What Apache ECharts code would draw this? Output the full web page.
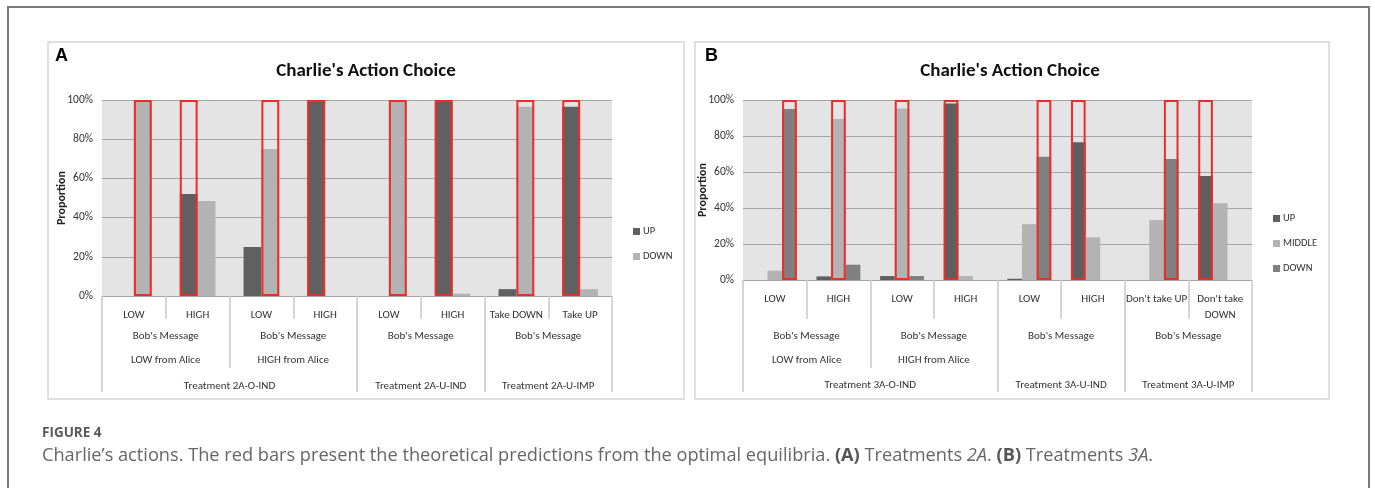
<!DOCTYPE html>
<html>
<head>
<meta charset="utf-8">
<script src="https://cdn.jsdelivr.net/npm/echarts@6/dist/echarts.min.js"></script>
<style>
  html, body { margin: 0; padding: 0; background: #fff; }
  #chart { width: 1375px; height: 488px; }
</style>
</head>
<body>
<div id="chart"></div>
<script>
// Panel A: treatments 2A (UP / DOWN)
var catsA = ['LOW', 'HIGH', 'LOW', 'HIGH', 'LOW', 'HIGH', 'Take DOWN', 'Take UP'];
var upA = [0, 52, 25, 99.5, 0, 99, 3.5, 96.5];
var downA = [100, 48.5, 75, 0, 99.5, 1.2, 96.5, 3.5];
// theoretical predictions (red outlines)
var predUpA = [null, 100, null, 100, null, 100, null, 100];
var predDownA = [100, null, 100, null, 100, null, 100, null];
var msgA = [["Bob's Message", 2], ["Bob's Message", 2], ["Bob's Message", 2], ["Bob's Message", 2]];
var aliceA = [['LOW from Alice', 2], ['HIGH from Alice', 2], ['', 4]];
var treatA = [['Treatment 2A-O-IND', 4], ['Treatment 2A-U-IND', 2], ['Treatment 2A-U-IMP', 2]];

// Panel B: treatments 3A (UP / MIDDLE / DOWN)
var catsB = ['LOW', 'HIGH', 'LOW', 'HIGH', 'LOW', 'HIGH', "Don't take UP", "Don't take\nDOWN"];
var upB = [0, 2, 2.2, 98, 0.7, 76.5, 0, 57.8];
var midB = [5.2, 89.4, 95.3, 2.2, 31, 23.7, 33.3, 42.6];
var downB = [95, 8.5, 2.2, 0, 68.5, 0, 67.2, 0];
var predUpB = [null, null, null, 100, null, 100, null, 100];
var predMidB = [null, 100, 100, null, null, null, null, null];
var predDownB = [100, null, null, null, 100, null, 100, null];
var msgB = [["Bob's Message", 2], ["Bob's Message", 2], ["Bob's Message", 2], ["Bob's Message", 2]];
var aliceB = [['LOW from Alice', 2], ['HIGH from Alice', 2], ['', 4]];
var treatB = [['Treatment 3A-O-IND', 4], ['Treatment 3A-U-IND', 2], ['Treatment 3A-U-IMP', 2]];

var FONT = "Carlito, Lato, sans-serif";
var LINE = '#c9c9c9';
var RED = '#f02a2a';

// one row of the grouped category table under a plot
function levelAxis(grid, groups, margin, tickLen) {
    var n = groups.reduce((s, g) => s + g[1], 0);
    var data = new Array(2 * n + 1).fill('');
    var marks = { 0: true };
    var pos = 0;
    groups.forEach(g => {
        data[2 * pos + g[1]] = g[0];
        pos += g[1];
        marks[2 * pos] = true;
    });
    return {
        type: 'category', gridIndex: grid, position: 'bottom', boundaryGap: false, data: data,
        axisLine: { show: false }, splitLine: { show: false },
        axisTick: { show: tickLen > 0, length: tickLen, interval: i => !!marks[i], lineStyle: { color: LINE, width: 1.5 } },
        axisLabel: { interval: 0, margin: margin, fontSize: 11, color: '#333', fontFamily: FONT }
    };
}

function mainAxis(grid, cats, tickLen) {
    return {
        type: 'category', gridIndex: grid, position: 'bottom', data: cats,
        axisLine: { show: false },
        axisTick: { show: true, interval: 0, length: tickLen, lineStyle: { color: LINE, width: 1.5 } },
        axisLabel: { interval: 0, margin: 11, fontSize: 11, lineHeight: 16, color: '#333', fontFamily: FONT }
    };
}

function predAxis(grid, cats) {
    return { type: 'category', gridIndex: grid, position: 'bottom', data: cats, show: false };
}

function yAxis(grid) {
    return {
        type: 'value', gridIndex: grid, min: 0, max: 100, interval: 20,
        name: 'Proportion', nameLocation: 'middle', nameRotate: 90, nameGap: 34, nameMoveOverlap: false,
        nameTextStyle: { fontSize: 12, fontWeight: 'bold', color: '#222', fontFamily: FONT },
        axisLine: { show: false }, axisTick: { show: false },
        axisLabel: { margin: 9, fontSize: 11.5, color: '#333', fontFamily: FONT, formatter: '{value}%' },
        splitLine: { lineStyle: { color: '#a4a4a4', width: 1.2 } }
    };
}

function bar(name, xi, yi, data, color, width) {
    return { name: name, type: 'bar', xAxisIndex: xi, yAxisIndex: yi, data: data, barWidth: width, barGap: '0%',
        itemStyle: { color: color } };
}

function predBar(name, xi, yi, data, width) {
    return { name: name, type: 'bar', xAxisIndex: xi, yAxisIndex: yi, data: data, barWidth: width, barGap: '0%', z: 5, silent: true,
        itemStyle: { color: 'rgba(0,0,0,0)', borderColor: RED, borderWidth: 2 } };
}

function legend(names, left, top) {
    return {
        data: names, left: left, top: top, orient: 'vertical', itemGap: 14, itemWidth: 7, itemHeight: 7, icon: 'rect',
        formatter: n => n.split('-')[0],
        textStyle: { fontSize: 10.5, color: '#333', fontFamily: FONT, padding: [0, 0, 0, -2] }
    };
}

var chart = echarts.init(document.getElementById('chart'));
var option = {
    backgroundColor: '#fff',
    animation: false,
    grid: [
        { left: 102, top: 100, width: 510, height: 196, show: true, backgroundColor: '#e4e4e4', borderWidth: 0 },
        { left: 743, top: 100, width: 509, height: 180, show: true, backgroundColor: '#e4e4e4', borderWidth: 0 }
    ],
    xAxis: [
        mainAxis(0, catsA, 23), predAxis(0, catsA),
        levelAxis(0, msgA, 35, 72), levelAxis(0, aliceA, 59, 0), levelAxis(0, treatA, 85, 96),
        mainAxis(1, catsB, 39), predAxis(1, catsB),
        levelAxis(1, msgB, 51, 88), levelAxis(1, aliceB, 75, 0), levelAxis(1, treatB, 100, 112)
    ],
    yAxis: [yAxis(0), yAxis(1)],
    legend: [legend(['UP-A', 'DOWN-A'], 628, 221), legend(['UP-B', 'MIDDLE-B', 'DOWN-B'], 1268, 208)],
    series: [
        bar('UP-A', 0, 0, upA, '#606060', '28%'),
        bar('DOWN-A', 0, 0, downA, '#b3b3b3', '28%'),
        predBar('predUpA', 1, 0, predUpA, '28%'),
        predBar('predDownA', 1, 0, predDownA, '28%'),
        bar('UP-B', 5, 1, upB, '#5e5e5e', '23%'),
        bar('MIDDLE-B', 5, 1, midB, '#b3b3b3', '23%'),
        bar('DOWN-B', 5, 1, downB, '#808080', '23%'),
        predBar('predUpB', 6, 1, predUpB, '23%'),
        predBar('predMidB', 6, 1, predMidB, '23%'),
        predBar('predDownB', 6, 1, predDownB, '23%')
    ],
    graphic: [
        { type: 'rect', silent: true, z: -10, shape: { x: 8, y: 7, width: 1361, height: 600 }, style: { fill: 'none', stroke: '#7a7a7a', lineWidth: 2 } },
        { type: 'rect', silent: true, z: -10, shape: { x: 48, y: 42, width: 636, height: 357 }, style: { fill: 'none', stroke: '#d6d6d6', lineWidth: 1.5 } },
        { type: 'rect', silent: true, z: -10, shape: { x: 695, y: 42, width: 634, height: 357 }, style: { fill: 'none', stroke: '#d6d6d6', lineWidth: 1.5 } },
        { type: 'text', x: 55, y: 56, style: { text: 'A', fontSize: 18, fontWeight: 'bold', fill: '#000', fontFamily: 'Liberation Sans, Arial, sans-serif', verticalAlign: 'middle' } },
        { type: 'text', x: 705, y: 56, style: { text: 'B', fontSize: 18, fontWeight: 'bold', fill: '#000', fontFamily: 'Liberation Sans, Arial, sans-serif', verticalAlign: 'middle' } },
        { type: 'text', x: 366, y: 71, style: { text: "Charlie's Action Choice", fontSize: 19, fontWeight: 'bold', fill: '#111', fontFamily: FONT, align: 'center', verticalAlign: 'middle' } },
        { type: 'text', x: 1010, y: 71, style: { text: "Charlie's Action Choice", fontSize: 19, fontWeight: 'bold', fill: '#111', fontFamily: FONT, align: 'center', verticalAlign: 'middle' } },
        { type: 'text', x: 42, y: 433, style: { text: 'FIGURE 4', fontSize: 13.5, fontWeight: 'bold', fill: '#5a5a5a', fontFamily: "'Open Sans', sans-serif", verticalAlign: 'middle' } },
        { type: 'text', x: 42, y: 456, style: {
            text: 'Charlie\u2019s actions. The red bars present the theoretical predictions from the optimal equilibria. {b|(A)} Treatments {i|2A}. {b|(B)} Treatments {i|3A}.',
            fontSize: 18.2, fill: '#666', fontFamily: "'Open Sans', sans-serif", verticalAlign: 'middle',
            rich: {
                b: { fontSize: 18.2, fontWeight: 'bold', fill: '#555', fontFamily: "'Open Sans', sans-serif" },
                i: { fontSize: 18.2, fontStyle: 'italic', fill: '#666', fontFamily: "'Open Sans', sans-serif" }
            }
        } }
    ]
};
chart.setOption(option);
</script>
</body>
</html>
